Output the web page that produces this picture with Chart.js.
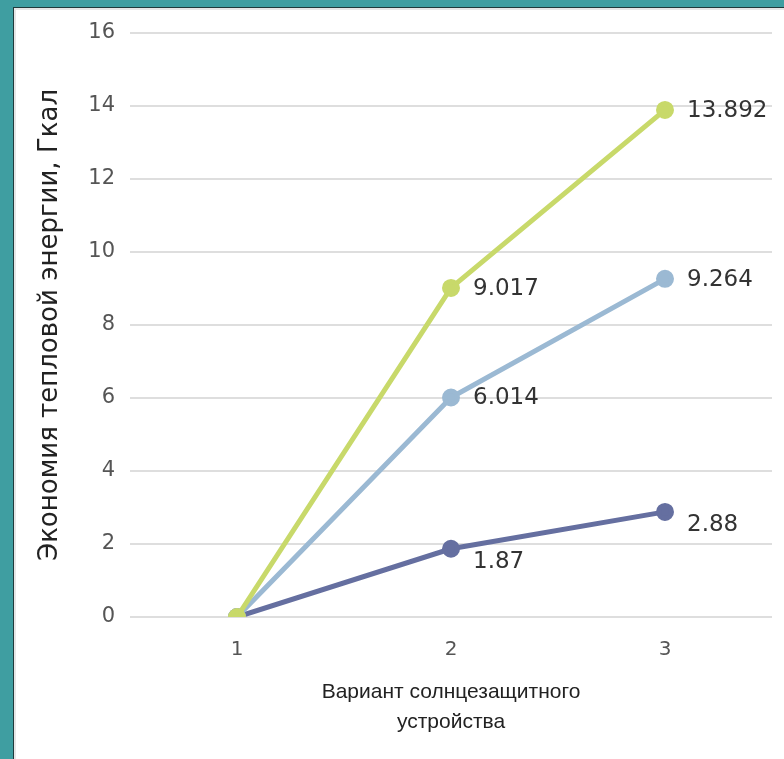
<!DOCTYPE html>
<html>
<head>
<meta charset="utf-8">
<script src="https://cdn.jsdelivr.net/npm/chart.js@4/dist/chart.umd.min.js"></script>
<style>
  html, body { margin: 0; padding: 0; }
  body { width: 784px; height: 759px; background: #3f9ea1; position: relative; overflow: hidden; }
  #panel {
    position: absolute; left: 13px; top: 7px; right: 0; bottom: 0;
    background: #ffffff;
    border-left: 1px solid #1f3a3b; border-top: 1px solid #1f3a3b;
    box-shadow: inset 2px 2px 0 #e6e6e6;
  }
  #wrap { position: absolute; left: 0; top: 0; width: 784px; height: 759px; }
</style>
</head>
<body>
<div id="panel"></div>
<div id="wrap"><canvas id="chart" width="784" height="759"></canvas></div>
<script>
// Heat energy savings per sun-shading device variant
const categories = ['1', '2', '3'];
const savingsGreen = [0, 9.017, 13.892];
const savingsBlue  = [0, 6.014, 9.264];
const savingsDark  = [0, 1.87, 2.88];
const yTicks = [0, 2, 4, 6, 8, 10, 12, 14, 16];

const colGreen = '#c8d96a';
const colBlue  = '#9bb9d3';
const colDark  = '#656fa0';

// Writes each point's value to the right of the marker (skipping the zero start)
const valueLabels = {
  id: 'valueLabels',
  afterDatasetsDraw(chart, args, opts) {
    const ctx = chart.ctx;
    ctx.save();
    ctx.font = '23px "DejaVu Sans", Verdana, sans-serif';
    ctx.fillStyle = '#333333';
    ctx.textAlign = 'left';
    ctx.textBaseline = 'middle';
    chart.data.datasets.forEach((ds, di) => {
      const meta = chart.getDatasetMeta(di);
      const dy = (opts.shiftY && opts.shiftY[di]) || 0;
      meta.data.forEach((pt, i) => {
        if (i === 0) return;
        ctx.fillText(String(ds.data[i]), pt.x + 22, pt.y + 1 + dy);
      });
    });
    ctx.restore();
  }
};

const mkSet = (data, color) => ({
  data,
  borderColor: color,
  backgroundColor: color,
  pointBackgroundColor: color,
  pointBorderColor: color,
  borderWidth: 5,
  pointRadius: 6.5,
  pointHoverRadius: 6.5,
  tension: 0,
  fill: false
});

new Chart(document.getElementById('chart'), {
  type: 'line',
  data: {
    labels: categories,
    datasets: [
      mkSet(savingsGreen, colGreen),
      mkSet(savingsBlue, colBlue),
      mkSet(savingsDark, colDark)
    ]
  },
  options: {
    responsive: false,
    animation: false,
    events: [],
    layout: { padding: { top: 33, right: 12, left: 0, bottom: 0 } },
    plugins: {
      legend: { display: false },
      tooltip: { enabled: false },
      valueLabels: { shiftY: { 2: 12 } }
    },
    scales: {
      x: {
        type: 'category',
        offset: true,
        grid: { display: false, drawTicks: false },
        border: { display: false },
        ticks: {
          color: '#555555',
          padding: 21,
          font: { family: '"DejaVu Sans", Verdana, sans-serif', size: 20 }
        },
        title: {
          display: true,
          text: ['Вариант солнцезащитного', 'устройства'],
          color: '#222222',
          padding: { top: 0, bottom: 22 },
          font: { family: '"Liberation Sans", Arial, sans-serif', size: 21, lineHeight: 1.43 }
        },
        afterFit(scale) { scale.height = 759 - 617; }
      },
      y: {
        min: 0,
        max: 16,
        afterBuildTicks(scale) { scale.ticks = yTicks.map(v => ({ value: v })); },
        grid: { color: '#dedede', lineWidth: 2, drawTicks: false },
        border: { display: false },
        ticks: {
          color: '#555555',
          padding: 15,
          font: { family: '"DejaVu Sans", Verdana, sans-serif', size: 21 }
        },
        title: {
          display: true,
          text: 'Экономия тепловой энергии, Гкал',
          color: '#222222',
          padding: { top: 35, bottom: 0 },
          font: { family: '"DejaVu Sans", Verdana, sans-serif', size: 26 }
        },
        afterFit(scale) { scale.width = 130; }
      }
    }
  },
  plugins: [valueLabels]
});
</script>
</body>
</html>
